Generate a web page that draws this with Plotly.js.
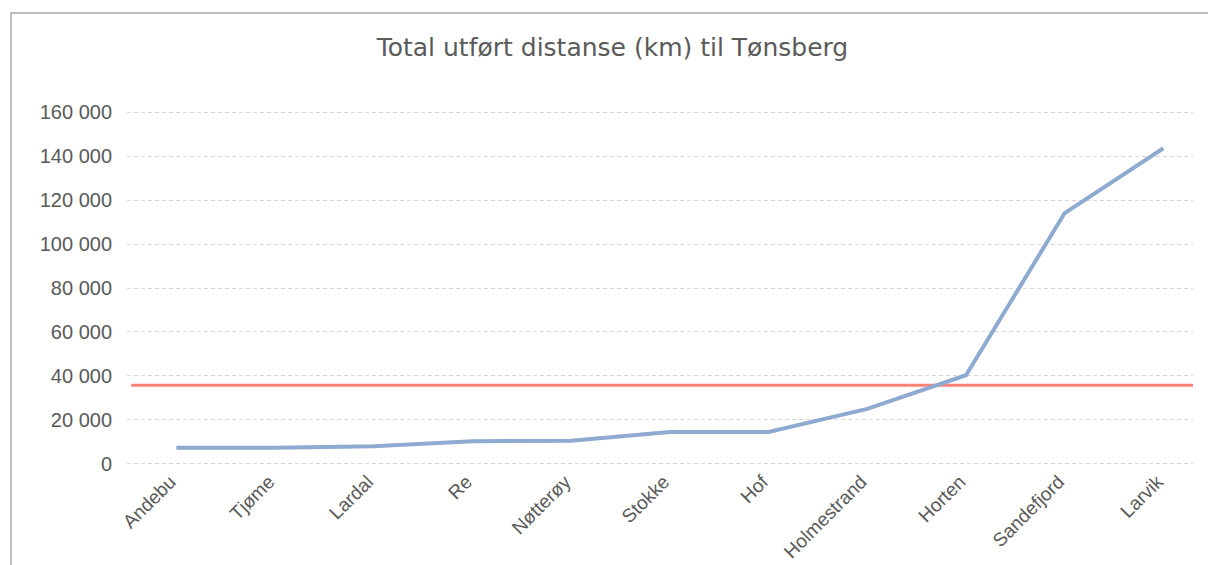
<!DOCTYPE html>
<html>
<head>
<meta charset="utf-8">
<script src="https://cdn.plot.ly/plotly-3.0.1.min.js"></script>
<style>
  html, body { margin: 0; padding: 0; background: #ffffff; }
  #frame { position: absolute; left: 10px; top: 12px; width: 1300px; height: 700px; border-left: 2px solid #bfbfbf; border-top: 2px solid #bfbfbf; box-sizing: border-box; pointer-events: none; z-index: 5; }
  #chart { position: absolute; left: 0; top: 0; width: 1208px; height: 565px; }
</style>
</head>
<body>
<div id="chart"></div>
<div id="frame"></div>
<script>
const categories = ["Andebu", "Tjøme", "Lardal", "Re", "Nøtterøy", "Stokke", "Hof", "Holmestrand", "Horten", "Sandefjord", "Larvik"];
const distanceKm = [7300, 7300, 8000, 10300, 10500, 14500, 14500, 25000, 40300, 114100, 143600];
const averageKm = 35700;
const yTickValues = [0, 20000, 40000, 60000, 80000, 100000, 120000, 140000, 160000];
const chartTitle = "Total utført distanse (km) til Tønsberg";

const traces = [{
  type: "scatter",
  mode: "lines",
  x: categories,
  y: distanceKm,
  line: { color: "#8eaad0", width: 4 },
  hoverinfo: "x+y",
  showlegend: false
}];

const layout = {
  width: 1208,
  height: 565,
  paper_bgcolor: "#ffffff",
  plot_bgcolor: "#ffffff",
  separators: ", ",
  margin: { l: 127, r: 15, t: 110, b: 99 },
  title: {
    text: chartTitle,
    font: { family: "DejaVu Sans", size: 25, color: "#5a5a5a" },
    x: 0.507, xanchor: "center",
    y: 0.917, yanchor: "middle"
  },
  xaxis: {
    type: "category",
    range: [-0.5, 10.3],
    showgrid: false,
    zeroline: false,
    showline: false,
    ticks: "",
    tickangle: -45,
    ticklabelstandoff: 0,
    ticklabelshift: -6,
    tickfont: { family: "Liberation Sans", size: 19, color: "#595959" },
    fixedrange: true
  },
  yaxis: {
    range: [-1000, 161000],
    tickvals: yTickValues,
    tickformat: ",d",
    showgrid: true,
    gridcolor: "#d6d6d6",
    gridwidth: 1,
    griddash: "4px,3px",
    zeroline: false,
    showline: false,
    ticks: "",
    ticklabelstandoff: 14,
    tickfont: { family: "Liberation Sans", size: 20, color: "#595959" },
    fixedrange: true
  },
  shapes: [{
    type: "line",
    xref: "paper", x0: 0.004, x1: 1,
    yref: "y", y0: averageKm, y1: averageKm,
    line: { color: "#ff8276", width: 3 },
    layer: "below"
  }]
};

Plotly.newPlot("chart", traces, layout, { displayModeBar: false, staticPlot: true });
</script>
</body>
</html>
